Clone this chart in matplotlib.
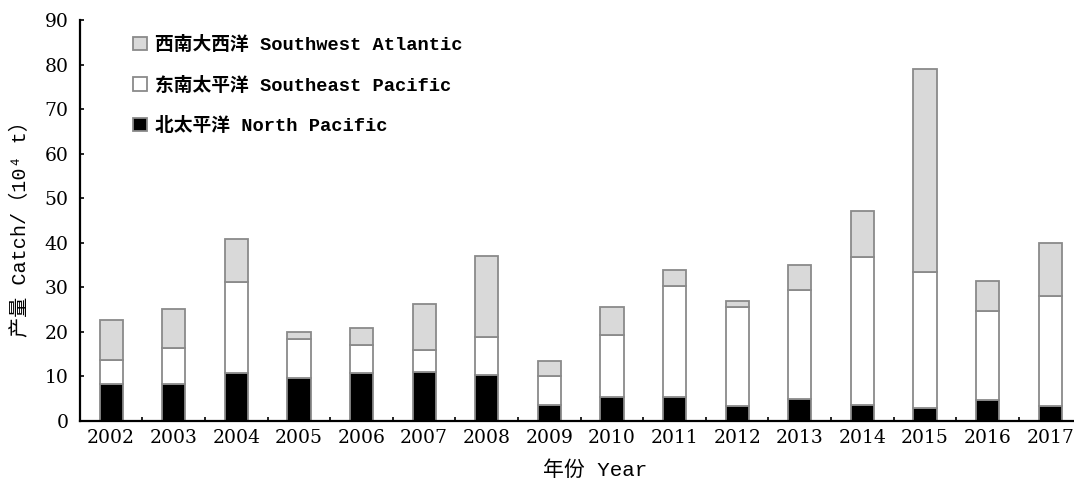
import matplotlib
matplotlib.use("Agg")
import matplotlib.pyplot as plt
from matplotlib.ticker import FixedLocator
import numpy as np

years = ["2002", "2003", "2004", "2005", "2006", "2007", "2008", "2009",
         "2010", "2011", "2012", "2013", "2014", "2015", "2016", "2017"]
north_pacific = [8.2, 8.2, 10.7, 9.6, 10.7, 11.0, 10.4, 3.7,
                 5.4, 5.4, 3.3, 5.0, 3.7, 2.9, 4.7, 3.4]
southeast_pacific = [5.4, 8.2, 20.4, 8.9, 6.4, 5.0, 8.4, 6.3,
                     14.0, 25.0, 22.2, 24.3, 33.0, 30.6, 20.1, 24.6]
southwest_atlantic = [9.1, 8.7, 9.8, 1.4, 3.8, 10.2, 18.2, 3.5,
                      6.1, 3.5, 1.4, 5.8, 10.4, 45.5, 6.7, 12.0]

label_np = "北太平洋 North Pacific"
label_sep = "东南太平洋 Southeast Pacific"
label_swa = "西南大西洋 Southwest Atlantic"
xlabel = "年份 Year"
ylabel = "产量 Catch/（10⁴ t）"

text_fonts = ["Liberation Mono", "Noto Sans CJK SC", "DejaVu Sans"]
num_font = "DejaVu Serif"

fig = plt.figure(figsize=(10.74, 4.86), dpi=100)
W, H = 1074, 486
left, right, top, bottom = 79.8, 1074, 20, 421
ax = fig.add_axes([left / W, 1 - bottom / H, (right - left) / W, (bottom - top) / H])

x = np.arange(len(years))
np_arr = np.array(north_pacific)
sep_arr = np.array(southeast_pacific)
swa_arr = np.array(southwest_atlantic)

bw = 0.37
edge = "#8a8a8a"
lw = 1.3
b1 = ax.bar(x, np_arr, bw, color="black", edgecolor=edge, linewidth=lw, label=label_np)
b2 = ax.bar(x, sep_arr, bw, bottom=np_arr, color="white", edgecolor=edge, linewidth=lw,
            label=label_sep)
b3 = ax.bar(x, swa_arr, bw, bottom=np_arr + sep_arr, color="#d9d9d9", edgecolor=edge,
            linewidth=lw, label=label_swa)

ax.set_xlim(-0.5, 15.38)
ax.set_ylim(0, 90)
ax.set_yticks(np.arange(0, 91, 10))
ax.set_xticks(x)
ax.set_xticklabels(years)
ax.xaxis.set_minor_locator(FixedLocator(x[:-1] + 0.5))

for s in ["top", "right"]:
    ax.spines[s].set_visible(False)
for s in ["left", "bottom"]:
    ax.spines[s].set_linewidth(1.6)
    ax.spines[s].set_color("black")

ax.tick_params(axis="y", direction="in", length=3, width=1.2, pad=8)
ax.tick_params(axis="x", which="major", length=0, pad=6)
ax.tick_params(axis="x", which="minor", direction="in", length=3, width=1.2)
for lab in ax.get_xticklabels() + ax.get_yticklabels():
    lab.set_fontfamily(num_font)
    lab.set_fontsize(13.5)

fig.text(595 / W, 1 - 470 / H, xlabel, ha="center", va="center",
         family=text_fonts, fontsize=15)
fig.text(20 / W, 1 - 224 / H, ylabel, ha="center", va="center", rotation=90,
         family=text_fonts, fontsize=14.5)

leg = ax.legend(handles=[b3, b2, b1], loc="upper left",
                bbox_to_anchor=(133 / W, 1 - 36 / H), bbox_transform=fig.transFigure,
                frameon=False, handlelength=0.72, handleheight=0.72, handletextpad=0.45,
                labelspacing=1.2, borderpad=0, borderaxespad=0,
                prop={"family": text_fonts, "size": 13.5, "weight": "bold"})

fig.savefig("out.png", dpi=100)
